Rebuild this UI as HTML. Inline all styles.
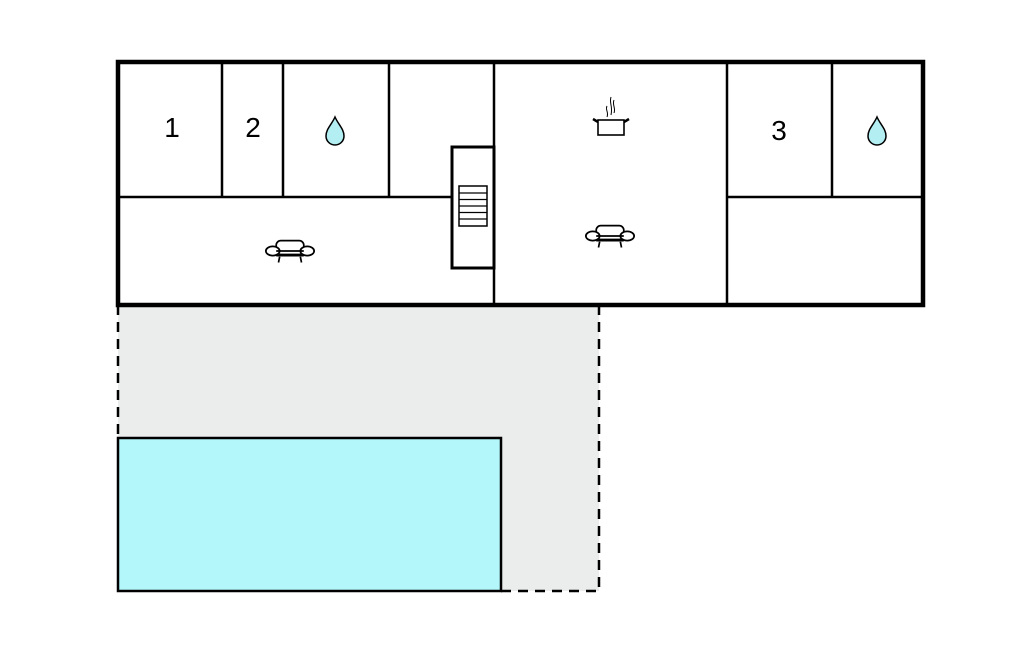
<!DOCTYPE html>
<html><head><meta charset="utf-8"><style>
html,body{margin:0;padding:0;background:#fff;}
svg{display:block;}
text{font-family:"Liberation Sans",sans-serif;font-size:28px;fill:#000;}
</style></head><body>
<svg width="1024" height="652" viewBox="0 0 1024 652" xmlns="http://www.w3.org/2000/svg">
<defs>
<g id="sofa" fill="none" stroke="#000" stroke-width="1.5">
<rect x="-12" y="-9" width="24" height="12" rx="4" fill="#fff"/>
<ellipse cx="-15" cy="0" rx="6" ry="4" fill="#fff"/>
<ellipse cx="15" cy="0" rx="6" ry="4" fill="#fff"/>
<path d="M-12 0 H12 M-12 4 H12 M-9 5 L-10 10 M9 5 L10 10"/>
</g>
<g id="drop"><path d="M0 -14 C-3 -7 -9 -2 -9 5 C-9 10 -5 14 0 14 C5 14 9 10 9 5 C9 -2 3 -7 0 -14 Z" fill="#b3eef3" stroke="#000" stroke-width="1.5"/></g>
</defs>
<path d="M118 305 V591 H599 V305 Z" fill="#ebedec"/>
<path d="M118 305 V438 M599 305 V591 H501" fill="none" stroke="#000" stroke-width="2.5" stroke-dasharray="10,7"/>
<rect x="118" y="438" width="383" height="153" fill="#b3f7fb" stroke="#000" stroke-width="2.5"/>
<rect x="118" y="62" width="805" height="243" fill="#fff" stroke="#000" stroke-width="4.5"/>
<g stroke="#000" stroke-width="2.5" fill="none">
<path d="M222 62 V197 M283 62 V197 M389 62 V197 M494 62 V305 M727 62 V305 M832 62 V197 M118 197 H452 M727 197 H923"/>
<rect x="452" y="147" width="42" height="121" fill="#fff" stroke-width="3"/>
<rect x="459" y="186" width="28" height="40" stroke-width="1.5"/>
<path d="M459 193 H487 M459 199.5 H487 M459 206 H487 M459 212.5 H487 M459 219 H487" stroke-width="1.2"/>
</g>
<text x="172" y="137" text-anchor="middle">1</text>
<text x="253" y="137" text-anchor="middle">2</text>
<text x="779" y="140" text-anchor="middle">3</text>
<use href="#drop" x="335" y="131"/>
<use href="#drop" x="877" y="131"/>
<g transform="translate(290 251) scale(1.15)"><use href="#sofa"/></g>
<g transform="translate(610 236) scale(1.15)"><use href="#sofa"/></g>
<g stroke="#000" fill="none" stroke-width="1.6">
<rect x="598" y="120" width="26" height="15" fill="#fff"/>
<path d="M598 122 L593 119 M624 122 L629 119" stroke-width="2.5"/>
<path d="M607 106 C605 110 609 112 607 117 M611 97 C609 103 613 106 611 115 M614 100 C612 105 616 108 614 113" stroke-width="1"/>
</g>
</svg>
</body></html>
